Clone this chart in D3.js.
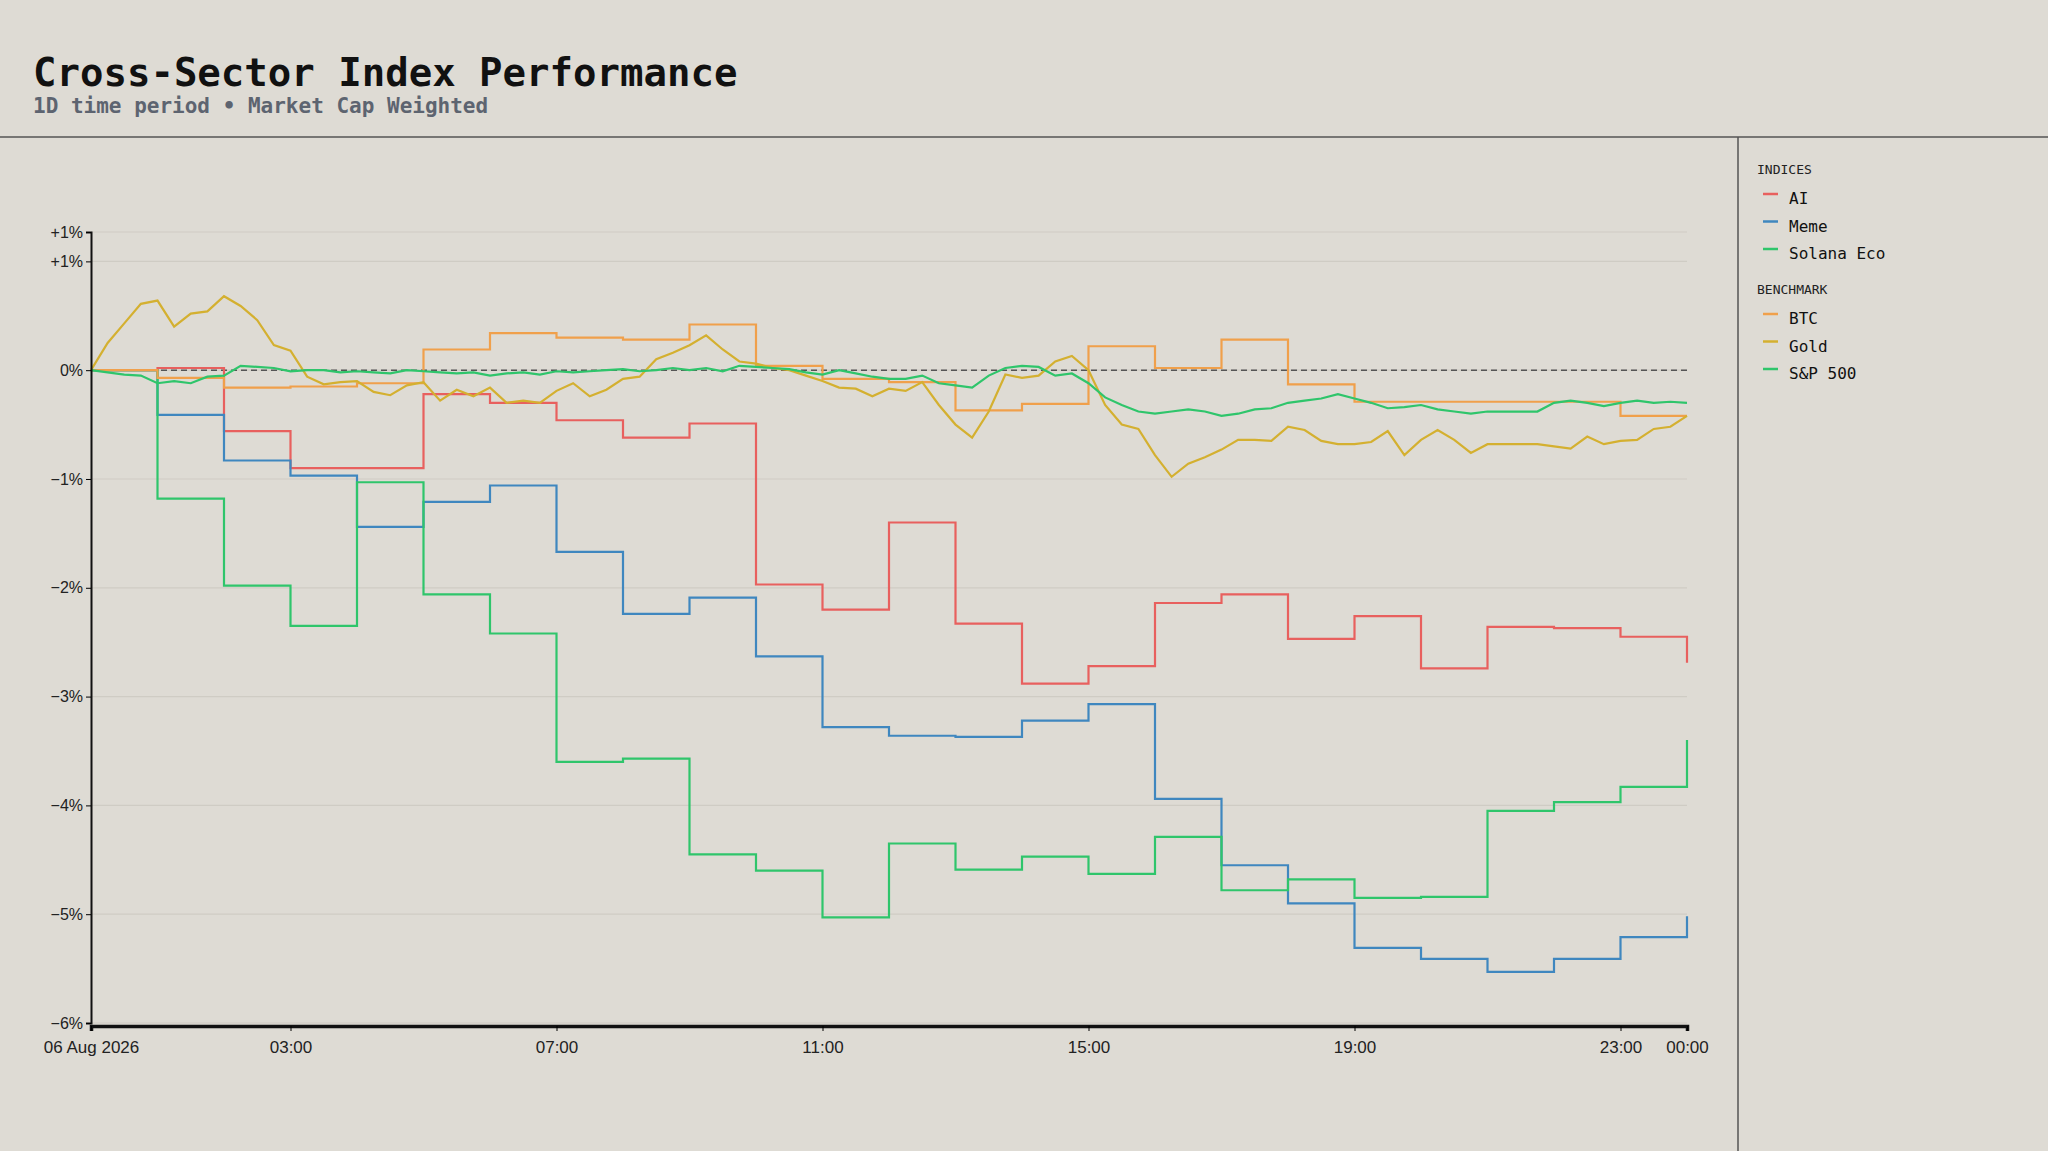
<!DOCTYPE html>
<html>
<head>
<meta charset="utf-8">
<script src="https://cdn.jsdelivr.net/npm/d3@7"></script>
<style>
  body { margin: 0; background: #dedbd4; }
  svg { display: block; font-family: "DejaVu Sans Mono", monospace; }
</style>
</head>
<body>
<script>
// hourly step values (% change), hour 0..23 plus end value
const aiVals = [0, 0.02, -0.56, -0.90, -0.90, -0.22, -0.30, -0.46, -0.62, -0.49, -1.97, -2.20, -1.40, -2.33, -2.88, -2.72, -2.14, -2.06, -2.47, -2.26, -2.74, -2.36, -2.37, -2.45, -2.69];
const memeVals = [0, -0.41, -0.83, -0.97, -1.44, -1.21, -1.06, -1.67, -2.24, -2.09, -2.63, -3.28, -3.36, -3.37, -3.22, -3.07, -3.94, -4.55, -4.90, -5.31, -5.41, -5.53, -5.41, -5.21, -5.02];
const solanaVals = [0, -1.18, -1.98, -2.35, -1.03, -2.06, -2.42, -3.60, -3.57, -4.45, -4.60, -5.03, -4.35, -4.59, -4.47, -4.63, -4.29, -4.78, -4.68, -4.85, -4.84, -4.05, -3.97, -3.83, -3.40];
const btcVals = [0, -0.07, -0.16, -0.15, -0.12, 0.19, 0.34, 0.30, 0.28, 0.42, 0.04, -0.08, -0.11, -0.37, -0.31, 0.22, 0.02, 0.28, -0.13, -0.29, -0.29, -0.29, -0.29, -0.42, -0.42];

// 15-minute samples
const goldVals = [0.00, 0.25, 0.43, 0.61, 0.64, 0.40, 0.52, 0.54, 0.68, 0.59, 0.46, 0.23, 0.18, -0.06, -0.13, -0.11, -0.10, -0.20, -0.23, -0.14, -0.11, -0.28, -0.18, -0.24, -0.16, -0.30, -0.28, -0.30, -0.19, -0.12, -0.24, -0.18, -0.08, -0.06, 0.10, 0.16, 0.23, 0.32, 0.19, 0.08, 0.06, 0.02, 0.00, -0.05, -0.10, -0.16, -0.17, -0.24, -0.17, -0.19, -0.11, -0.32, -0.50, -0.62, -0.38, -0.04, -0.07, -0.05, 0.08, 0.13, 0.00, -0.32, -0.50, -0.54, -0.78, -0.98, -0.86, -0.80, -0.73, -0.64, -0.64, -0.65, -0.52, -0.55, -0.65, -0.68, -0.68, -0.66, -0.56, -0.78, -0.64, -0.55, -0.64, -0.76, -0.68, -0.68, -0.68, -0.68, -0.70, -0.72, -0.61, -0.68, -0.65, -0.64, -0.54, -0.52, -0.42];
const spxVals = [0, -0.02, -0.04, -0.05, -0.12, -0.10, -0.12, -0.06, -0.05, 0.04, 0.03, 0.02, -0.01, 0.00, 0.00, -0.02, -0.01, -0.02, -0.03, 0.00, -0.01, -0.02, -0.03, -0.02, -0.05, -0.03, -0.02, -0.04, -0.01, -0.02, -0.01, 0.00, 0.01, -0.01, 0.00, 0.02, 0.00, 0.02, -0.01, 0.04, 0.03, 0.02, 0.01, -0.02, -0.04, 0.00, -0.03, -0.06, -0.08, -0.08, -0.05, -0.12, -0.14, -0.16, -0.05, 0.02, 0.04, 0.03, -0.05, -0.03, -0.12, -0.25, -0.32, -0.38, -0.40, -0.38, -0.36, -0.38, -0.42, -0.40, -0.36, -0.35, -0.30, -0.28, -0.26, -0.22, -0.26, -0.30, -0.35, -0.34, -0.32, -0.36, -0.38, -0.40, -0.38, -0.38, -0.38, -0.38, -0.30, -0.28, -0.30, -0.33, -0.30, -0.28, -0.30, -0.29, -0.30];

const yTicks = [1.27, 1, 0, -1, -2, -3, -4, -5, -6];
const xTickHours = [0, 3, 7, 11, 15, 19, 23, 24];
const groups = ["INDICES", "BENCHMARK"];

const series = [
  { name: "AI", vals: aiVals, step: 60, color: "#e8605e", group: "INDICES" },
  { name: "Meme", vals: memeVals, step: 60, color: "#3f87bf", group: "INDICES" },
  { name: "Solana Eco", vals: solanaVals, step: 60, color: "#2fc56b", group: "INDICES" },
  { name: "BTC", vals: btcVals, step: 60, color: "#f0a04b", group: "BENCHMARK" },
  { name: "Gold", vals: goldVals, step: 15, color: "#d4b030", group: "BENCHMARK" },
  { name: "S&P 500", vals: spxVals, step: 15, color: "#2fc56b", group: "BENCHMARK" }
];

const W = 2048, H = 1151;
const start = new Date(2026, 7, 6, 0, 0);
const svg = d3.select("body").append("svg").attr("width", W).attr("height", H);

svg.append("text").attr("x", 33).attr("y", 86)
  .attr("font-size", 39).attr("font-weight", "bold").attr("fill", "#111")
  .text("Cross-Sector Index Performance");
svg.append("text").attr("x", 33).attr("y", 113)
  .attr("font-size", 21).attr("font-weight", "bold").attr("fill", "#5d6470")
  .text("1D time period • Market Cap Weighted");

svg.append("line").attr("x1", 0).attr("x2", W).attr("y1", 137).attr("y2", 137)
  .attr("stroke", "#555").attr("stroke-width", 1.5);
svg.append("line").attr("x1", 1738).attr("x2", 1738).attr("y1", 137).attr("y2", H)
  .attr("stroke", "#555").attr("stroke-width", 1.5);

const x = d3.scaleTime().domain([start, d3.timeHour.offset(start, 24)]).range([91, 1687]);
const y = d3.scaleLinear().domain([-6, 1.27]).range([1023, 232]);

// grid
svg.append("g").selectAll("line").data(yTicks).join("line")
  .attr("x1", 91).attr("x2", 1687).attr("y1", d => y(d)).attr("y2", d => y(d))
  .attr("stroke", "#cfccc4").attr("stroke-width", 1.2);

svg.append("line").attr("x1", 91).attr("x2", 1687).attr("y1", y(0)).attr("y2", y(0))
  .attr("stroke", "#555").attr("stroke-width", 1.5).attr("stroke-dasharray", "6,4");

const line = d3.line().x(d => x(d.t)).y(d => y(d.v));

series.forEach(s => {
  const pts = s.vals.map((v, i) => ({ t: d3.timeMinute.offset(start, i * s.step), v: v }));
  svg.append("path").datum(pts)
    .attr("fill", "none").attr("stroke", s.color).attr("stroke-width", 2.2)
    .attr("d", line.curve(s.step === 60 ? d3.curveStepAfter : d3.curveLinear));
});

// axes
const yAxis = svg.append("g").attr("transform", "translate(91,0)")
  .call(d3.axisLeft(y).tickValues(yTicks).tickSize(5)
    .tickFormat(d => (d > 0 ? "+" : "") + d3.format(".0f")(d) + "%"));
yAxis.select(".domain").attr("stroke", "#111").attr("stroke-width", 2);
yAxis.selectAll("text").attr("font-size", 16).attr("fill", "#222");

const fmt = d3.timeFormat("%H:%M");
const xAxis = svg.append("g").attr("transform", "translate(0,1026)")
  .call(d3.axisBottom(x).tickValues(xTickHours.map(h => d3.timeHour.offset(start, h))).tickSize(5)
    .tickFormat((d, i) => i === 0 ? "06 Aug 2026" : fmt(d)));
xAxis.select(".domain").attr("stroke", "#111").attr("stroke-width", 3.5);
xAxis.selectAll("text").attr("font-size", 17).attr("fill", "#222").attr("dy", "1.1em");

// legend (clipped at the bottom like the reference)
svg.append("clipPath").attr("id", "legclip").append("rect")
  .attr("x", 1740).attr("y", 140).attr("width", 300).attr("height", 242);
const leg = svg.append("g").attr("clip-path", "url(#legclip)");
groups.forEach((g, gi) => {
  const gy = 174 + gi * 120;
  leg.append("text").attr("x", 1757).attr("y", gy).attr("font-size", 13)
    .attr("fill", "#222").text(g);
  series.filter(s => s.group === g).forEach((s, i) => {
    const ly = gy + 30 + i * 27.5;
    leg.append("line").attr("x1", 1763).attr("x2", 1778).attr("y1", ly - 10).attr("y2", ly - 10)
      .attr("stroke", s.color).attr("stroke-width", 2.5);
    leg.append("text").attr("x", 1789).attr("y", ly).attr("font-size", 16)
      .attr("fill", "#111").text(s.name);
  });
});
</script>
</body>
</html>
